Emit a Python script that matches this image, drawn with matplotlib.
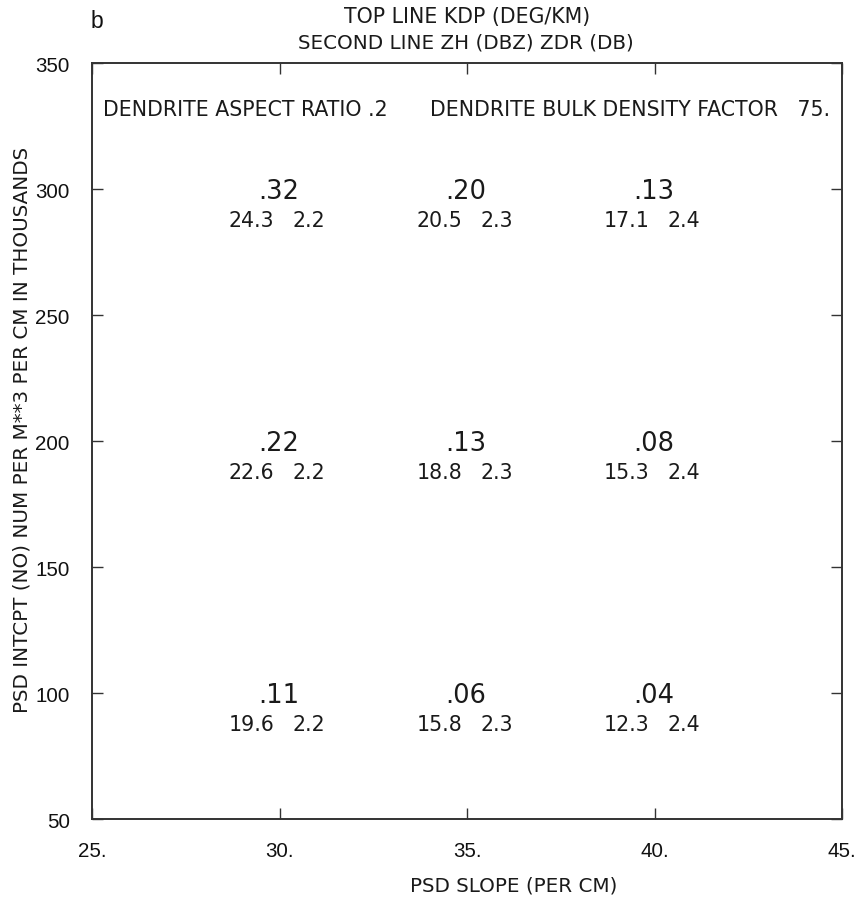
import matplotlib
matplotlib.use("Agg")
import matplotlib.pyplot as plt

slopes = [30, 35, 40]
intercepts = [300, 200, 100]
kdp = [[".32", ".20", ".13"],
       [".22", ".13", ".08"],
       [".11", ".06", ".04"]]
zh = [["24.3", "20.5", "17.1"],
      ["22.6", "18.8", "15.3"],
      ["19.6", "15.8", "12.3"]]
zdr = [["2.2", "2.3", "2.4"],
       ["2.2", "2.3", "2.4"],
       ["2.2", "2.3", "2.4"]]
xticks = [25, 30, 35, 40, 45]
xticklabels = ["25.", "30.", "35.", "40.", "45."]
yticks = [50, 100, 150, 200, 250, 300, 350]

W, H = 861, 903
TXT = "DejaVu Sans"
NUM = ["Liberation Sans", "DejaVu Sans"]
INK = "#1a1a1a"

fig = plt.figure(figsize=(W / 100, H / 100), dpi=100)
ax = fig.add_axes([92 / W, 1 - 820 / H, 750 / W, 756 / H])
ax.set_xlim(25, 45)
ax.set_ylim(50, 350)
ax.set_xticks(xticks)
ax.set_xticklabels(xticklabels)
ax.set_yticks(yticks)
ax.tick_params(direction="in", top=True, right=True, length=8, width=1,
               labelsize=14.8, pad=16, colors="#333333", labelcolor="#111111")
for lab in ax.get_xticklabels() + ax.get_yticklabels():
    lab.set_family(NUM)
for s in ax.spines.values():
    s.set_linewidth(1.4)
    s.set_color("#333333")

for i, yv in enumerate(intercepts):
    for j, xv in enumerate(slopes):
        ax.annotate(kdp[i][j], (xv, yv), xytext=(-0.7, -6.6), textcoords="offset points",
                    ha="center", va="baseline", fontsize=18.5, family=TXT, color=INK)
        ax.annotate(zh[i][j], (xv, yv), xytext=(-36.4, -26.4), textcoords="offset points",
                    ha="left", va="baseline", fontsize=14.8, family=TXT, color=INK)
        ax.annotate(zdr[i][j], (xv, yv), xytext=(9.7, -26.4), textcoords="offset points",
                    ha="left", va="baseline", fontsize=14.8, family=TXT, color=INK)

fig.text(103 / W, 1 - 110 / H, "DENDRITE ASPECT RATIO .2", ha="left", va="center",
         fontsize=14.8, family=TXT, color=INK)
fig.text(430 / W, 1 - 110 / H, "DENDRITE BULK DENSITY FACTOR   75.", ha="left", va="center",
         fontsize=14.8, family=TXT, color=INK)

fig.text(467 / W, 1 - 17 / H, "TOP LINE KDP (DEG/KM)", ha="center", va="center",
         fontsize=14.8, family=TXT, color=INK)
fig.text(466 / W, 1 - 43 / H, "SECOND LINE ZH (DBZ) ZDR (DB)", ha="center", va="center",
         fontsize=14.3, family=TXT, color=INK)
fig.text(97 / W, 1 - 21 / H, "b", ha="center", va="center", fontsize=16.5,
         family=NUM, color="#111111")

fig.text(514 / W, 1 - 886 / H, "PSD SLOPE (PER CM)", ha="center", va="center",
         fontsize=14.3, family=TXT, color=INK)
fig.text(22.5 / W, 1 - 430 / H, "PSD INTCPT (NO) NUM PER M**3 PER CM IN THOUSANDS",
         rotation=90, ha="center", va="center", fontsize=14.3, family=TXT, color=INK)

fig.savefig("out.png", dpi=100)
